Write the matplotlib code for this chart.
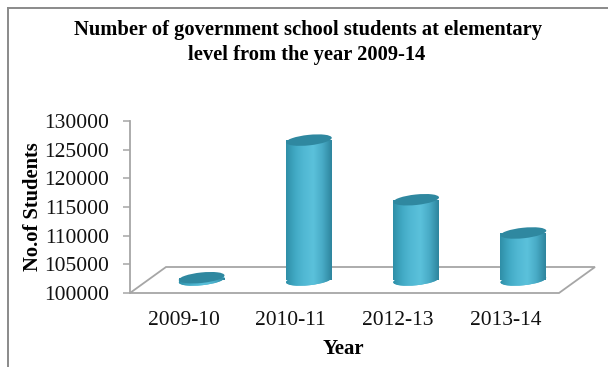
import numpy as np
import matplotlib
matplotlib.use("Agg")
import matplotlib.pyplot as plt
import matplotlib.transforms as mtransforms
from matplotlib.patches import Ellipse, Polygon
from matplotlib.colors import LinearSegmentedColormap
from matplotlib.lines import Line2D

years = ["2009-10", "2010-11", "2012-13", "2013-14"]
students = [100400, 124400, 114000, 108200]
y_ticks = [100000, 105000, 110000, 115000, 120000, 125000, 130000]

plt.rcParams["font.family"] = ["Liberation Serif", "DejaVu Serif"]

W, H = 608, 367
fig = plt.figure(figsize=(W / 100, H / 100), dpi=100)

# axes box = front face of the 3D floor / value axis
ax = fig.add_axes([130 / W, (H - 293) / H, 429 / W, 172 / H])
ax.set_xlim(-0.5, 3.5)
ax.set_ylim(100000, 130000)

# depth of the 3D floor (in data units)
px_x = 4 / 429.0
px_y = 30000 / 172.0
dx = 36 * px_x
dy = 26 * px_y

floor = Polygon([(-0.5, 100000), (3.5, 100000), (3.5 + dx, 100000 + dy),
                 (-0.5 + dx, 100000 + dy)], closed=True, fill=False,
                edgecolor="#a6a6a6", lw=1.3, clip_on=False, zorder=1)
ax.add_patch(floor)

body_cmap = LinearSegmentedColormap.from_list(
    "cyl", ["#2f8fa8", "#42aac5", "#52b9d4", "#5bc1db", "#48abc6", "#2e859e"])
grad = np.linspace(0, 1, 64).reshape(1, -1)

bar_w = 46 * px_x
ell_w, ell_h, ell_ang = 0.46, 0.105, 6


def ellipse_at(x, y, color, z):
    tr = fig.dpi_scale_trans + mtransforms.ScaledTranslation(x, y, ax.transData)
    e = Ellipse((0, 0), ell_w, ell_h, angle=ell_ang, transform=tr,
                facecolor=color, edgecolor="none", zorder=z, clip_on=False)
    ax.add_patch(e)
    return e


base = 100000 + dy / 2
for i, v in enumerate(students):
    cx = i + dx / 2
    top = v + dy / 2
    x0, x1 = cx - bar_w / 2, cx + bar_w / 2
    # bottom cap
    eb = ellipse_at(cx, base, "#4cb4cf", 2)
    im = ax.imshow(grad, cmap=body_cmap, extent=(x0, x1, base - 2000, base + 10),
                   aspect="auto", zorder=2.1, interpolation="bicubic")
    im.set_clip_path(eb)
    # body
    bars = ax.bar([cx], [top - base], bottom=base, width=bar_w,
                  color="#45accb", edgecolor="none", zorder=2.2)
    im2 = ax.imshow(grad, cmap=body_cmap, extent=(x0, x1, base, top),
                    aspect="auto", zorder=2.3, interpolation="bicubic")
    im2.set_clip_path(bars.patches[0])
    # top cap
    ellipse_at(cx, top, "#2f88a0", 3)

ax.set_xlim(-0.5, 3.5)
ax.set_ylim(100000, 130000)

for s in ["top", "right", "bottom"]:
    ax.spines[s].set_visible(False)
ax.spines["left"].set_color("#a6a6a6")
ax.spines["left"].set_linewidth(1.3)
ax.set_yticks(y_ticks)
ax.set_yticklabels([str(t) for t in y_ticks])
ax.tick_params(axis="y", length=5, width=1.1, color="#a6a6a6", pad=10,
               labelsize=15.5, labelcolor="#111111")
ax.set_xticks(range(len(years)))
ax.set_xticklabels(years)
ax.tick_params(axis="x", length=0, pad=13, labelsize=15.5, labelcolor="#111111")
ax.patch.set_alpha(0)

fig.text(308 / W, 1 - 35 / H, "Number of government school students at elementary",
         ha="center", va="baseline", fontsize=14.8, fontweight="bold")
fig.text(307 / W, 1 - 60 / H, "level from the year 2009-14",
         ha="center", va="baseline", fontsize=14.8, fontweight="bold")
fig.text(33 / W, 1 - 207 / H, "No.of Students", rotation=90, ha="center",
         va="center", fontsize=14.8, fontweight="bold")
fig.text(343 / W, 1 - 349 / H, "Year", ha="center", va="center",
         fontsize=15, fontweight="bold")

# chart frame (left and top edges visible)
fig.add_artist(Line2D([7.5 / W, 7.5 / W], [-0.05, 1 - 7.5 / H],
                      transform=fig.transFigure, color="#8a8a8a", lw=1.4))
fig.add_artist(Line2D([7.5 / W, 1.05], [1 - 7.5 / H, 1 - 7.5 / H],
                      transform=fig.transFigure, color="#8a8a8a", lw=1.4))

fig.savefig("out.png", dpi=100)
